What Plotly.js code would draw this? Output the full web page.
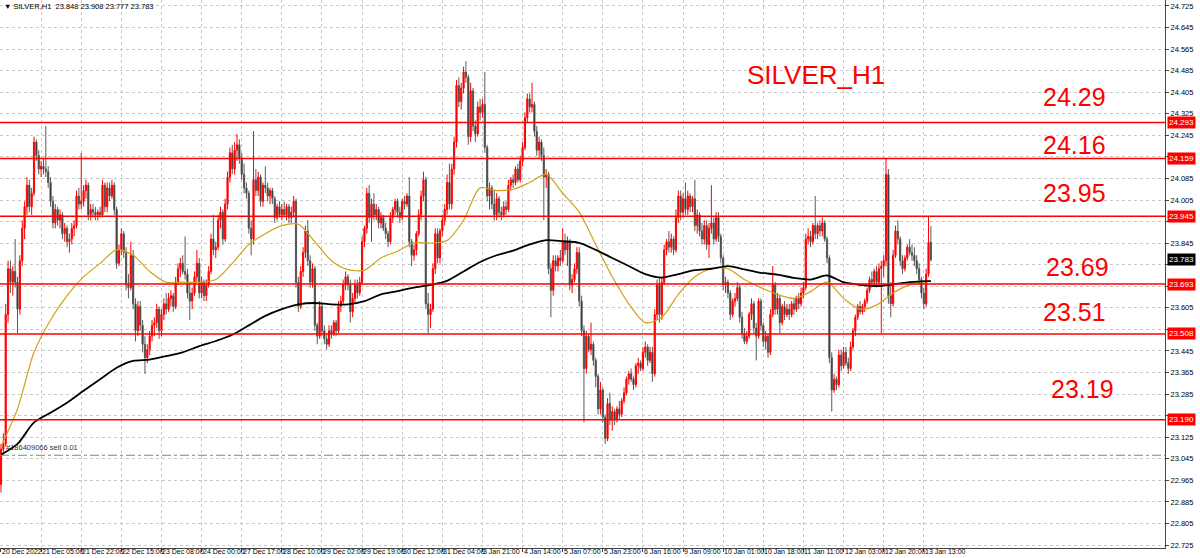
<!DOCTYPE html>
<html>
<head>
<meta charset="utf-8">
<script src="https://cdn.plot.ly/plotly-3.0.1.min.js"></script>
<style>html,body{margin:0;padding:0;background:#fff;}#chart{width:1200px;height:558px;}</style>
</head>
<body>
<div id="chart"></div>
<script>
// ---- H1 bars (20 Dec 2022 – 13 Jan 2023), split in four blocks ----
const o1=[22.95,23.08,23.10,23.58,23.75,23.70,23.74,23.70,23.60,23.78,
23.90,23.98,24.06,23.98,24.03,24.22,24.17,24.12,24.13,24.12,
24.11,24.07,24.00,23.92,23.97,23.93,23.95,23.88,23.90,23.85,
23.86,23.90,23.91,24.02,23.99,24.00,24.04,24.06,23.95,23.97,
23.96,23.95,23.96,23.95,24.06,23.98,24.05,24.02,24.06,23.97,
23.77,23.82,23.88,23.81,23.69,23.68,23.80,23.62,23.52,23.61,
23.54,23.47,23.42,23.45,23.50,23.54,23.55,23.60,23.52,23.58,
23.62,23.60,23.64,23.65,23.61,23.70,23.75,23.77,23.74,23.73,
23.66,23.63,23.66,23.72,23.77,23.66,23.70,23.65,23.69,23.74,
23.86,23.82,23.83,23.93,23.96,23.86,23.99,24.09,24.18,24.12];
const h1=[23.10,23.14,23.62,23.78,23.78,23.76,23.86,23.72,23.80,23.93,
24.00,24.09,24.08,24.05,24.24,24.23,24.19,24.15,24.16,24.28,
24.13,24.09,24.02,23.99,23.98,23.97,23.96,23.92,23.91,23.88,
23.92,23.93,24.04,24.05,24.18,24.06,24.08,24.07,23.99,23.99,
23.98,23.97,23.98,24.08,24.07,24.07,24.07,24.08,24.07,23.98,
23.84,23.90,23.89,23.83,23.73,23.85,23.82,23.64,23.63,23.63,
23.56,23.50,23.47,23.52,23.56,23.57,23.62,23.61,23.60,23.64,
23.66,23.66,23.67,23.66,23.72,23.77,23.79,23.80,23.87,23.75,
23.70,23.68,23.74,23.82,23.79,23.72,23.71,23.71,23.76,23.88,
23.95,23.85,23.95,23.98,23.97,24.01,24.11,24.20,24.21,24.22];
const l1=[22.92,23.06,23.09,23.55,23.66,23.65,23.68,23.51,23.58,23.76,
23.86,23.95,23.96,23.95,24.02,24.15,24.10,24.09,24.10,24.09,
24.05,23.98,23.90,23.90,23.91,23.90,23.86,23.85,23.83,23.81,
23.84,23.87,23.90,23.97,23.97,23.98,24.01,23.93,23.93,23.94,
23.93,23.93,23.94,23.94,23.96,23.96,24.00,24.01,23.95,23.75,
23.76,23.80,23.79,23.67,23.64,23.67,23.60,23.48,23.50,23.52,
23.44,23.36,23.40,23.43,23.48,23.50,23.53,23.49,23.50,23.56,
23.58,23.59,23.61,23.59,23.60,23.69,23.72,23.73,23.71,23.64,
23.56,23.60,23.65,23.70,23.64,23.64,23.63,23.63,23.68,23.73,
23.80,23.79,23.82,23.90,23.84,23.85,23.97,24.07,24.10,24.10];
const c1=[23.08,23.10,23.58,23.75,23.70,23.74,23.70,23.60,23.78,23.90,
23.98,24.06,23.98,24.03,24.22,24.17,24.12,24.13,24.12,24.11,
24.07,24.00,23.92,23.97,23.93,23.95,23.88,23.90,23.85,23.86,
23.90,23.91,24.02,23.99,24.00,24.04,24.06,23.95,23.97,23.96,
23.95,23.96,23.95,24.06,23.98,24.05,24.02,24.06,23.97,23.77,
23.82,23.88,23.81,23.69,23.68,23.80,23.62,23.52,23.61,23.54,
23.47,23.42,23.45,23.50,23.54,23.55,23.60,23.52,23.58,23.62,
23.60,23.64,23.65,23.61,23.70,23.75,23.77,23.74,23.73,23.66,
23.63,23.66,23.72,23.77,23.66,23.70,23.65,23.69,23.74,23.86,
23.82,23.83,23.93,23.96,23.86,23.99,24.09,24.18,24.12,24.19];

const o2=[24.19,24.21,24.16,24.10,24.05,24.03,23.90,23.86,24.08,24.04,
24.09,24.00,24.06,24.05,24.02,24.04,24.01,23.94,23.98,23.95,
23.97,23.95,23.98,23.94,23.96,24.00,23.70,23.61,23.74,23.81,
23.89,23.78,23.70,23.75,23.54,23.50,23.61,23.52,23.49,23.47,
23.52,23.51,23.55,23.52,23.61,23.63,23.69,23.72,23.69,23.59,
23.64,23.69,23.66,23.70,23.85,23.90,24.03,23.94,23.99,23.95,
23.97,23.92,23.94,23.90,23.88,23.85,23.94,23.97,24.00,23.96,
23.94,24.00,23.99,24.02,23.85,23.80,23.82,23.88,23.95,24.02,
24.08,23.62,23.58,23.60,23.75,23.88,23.79,23.89,23.93,23.97,
24.07,23.99,24.12,24.22,24.43,24.37,24.42,24.48,24.46,24.24];
const h2=[24.25,24.23,24.18,24.14,24.07,24.04,23.93,24.26,24.12,24.11,
24.10,24.07,24.13,24.07,24.05,24.05,24.02,23.99,24.00,23.99,
24.00,23.99,23.99,23.98,24.02,24.01,23.72,23.76,23.83,23.91,
23.93,23.80,23.77,23.76,23.55,23.63,23.62,23.54,23.51,23.54,
23.54,23.56,23.56,23.63,23.65,23.71,23.74,23.73,23.71,23.66,
23.71,23.71,23.72,23.87,23.91,24.05,24.06,24.01,24.03,23.99,
23.98,23.96,23.95,23.92,23.89,23.96,23.98,24.01,24.01,23.98,
24.01,24.02,24.03,24.09,23.86,23.84,23.89,23.97,24.04,24.11,
24.09,23.66,23.62,23.77,23.90,23.90,23.90,23.95,23.99,24.10,
24.14,24.14,24.24,24.45,24.46,24.44,24.50,24.52,24.47,24.44];
const l2=[24.15,24.14,24.08,24.03,24.01,23.88,23.80,23.84,24.02,24.02,
23.98,23.98,24.03,24.00,23.99,23.99,23.92,23.93,23.94,23.93,
23.94,23.93,23.92,23.92,23.94,23.68,23.59,23.60,23.72,23.79,
23.76,23.68,23.68,23.52,23.47,23.49,23.50,23.47,23.45,23.46,
23.49,23.50,23.50,23.51,23.59,23.62,23.67,23.67,23.55,23.57,
23.62,23.64,23.65,23.69,23.83,23.88,23.92,23.85,23.93,23.93,
23.90,23.90,23.89,23.86,23.83,23.84,23.92,23.95,23.94,23.92,
23.93,23.97,23.98,23.83,23.76,23.78,23.80,23.87,23.93,24.00,
23.60,23.51,23.53,23.59,23.73,23.77,23.77,23.87,23.91,23.95,
23.97,23.97,24.10,24.20,24.35,24.34,24.40,24.44,24.21,24.22];
const c2=[24.21,24.16,24.10,24.05,24.03,23.90,23.86,24.08,24.04,24.09,
24.00,24.06,24.05,24.02,24.04,24.01,23.94,23.98,23.95,23.97,
23.95,23.98,23.94,23.96,24.00,23.70,23.61,23.74,23.81,23.89,
23.78,23.70,23.75,23.54,23.50,23.61,23.52,23.49,23.47,23.52,
23.51,23.55,23.52,23.61,23.63,23.69,23.72,23.69,23.59,23.64,
23.69,23.66,23.70,23.85,23.90,24.03,23.94,23.99,23.95,23.97,
23.92,23.94,23.90,23.88,23.85,23.94,23.97,24.00,23.96,23.94,
24.00,23.99,24.02,23.85,23.80,23.82,23.88,23.95,24.02,24.08,
23.62,23.58,23.60,23.75,23.88,23.79,23.89,23.93,23.97,24.07,
23.99,24.12,24.22,24.43,24.37,24.42,24.48,24.46,24.24,24.41];

const o3=[24.41,24.28,24.25,24.35,24.33,24.36,24.20,24.02,24.05,23.99,
23.95,24.01,23.96,23.95,23.98,23.97,24.06,24.08,24.07,24.12,
24.08,24.15,24.20,24.31,24.38,24.35,24.36,24.26,24.19,24.22,
24.17,24.09,24.10,23.75,23.67,23.78,23.76,23.79,23.78,23.85,
23.82,23.85,23.69,23.71,23.75,23.81,23.63,23.52,23.38,23.50,
23.45,23.47,23.41,23.35,23.23,23.30,23.20,23.12,23.25,23.19,
23.22,23.19,23.23,23.21,23.26,23.29,23.34,23.36,23.34,23.32,
23.39,23.40,23.38,23.44,23.46,23.41,23.44,23.36,23.58,23.69,
23.58,23.70,23.82,23.85,23.83,23.86,23.82,23.94,24.02,23.96,
24.01,23.97,24.02,23.98,24.01,23.91,23.95,23.89,23.86];
const h3=[24.42,24.30,24.37,24.38,24.38,24.48,24.21,24.07,24.06,24.04,
24.03,24.02,23.98,24.00,24.00,24.08,24.09,24.10,24.13,24.14,
24.17,24.22,24.33,24.40,24.40,24.44,24.37,24.28,24.24,24.23,
24.20,24.12,24.11,23.77,23.80,23.80,23.80,23.82,23.90,23.88,
23.87,23.86,23.73,23.77,23.83,23.83,23.65,23.54,23.52,23.51,
23.55,23.48,23.42,23.36,23.33,23.31,23.21,23.27,23.29,23.24,
23.23,23.24,23.26,23.27,23.31,23.35,23.37,23.38,23.35,23.40,
23.42,23.41,23.46,23.48,23.47,23.46,23.46,23.60,23.71,23.72,
23.72,23.84,23.86,23.89,23.88,23.87,23.97,24.04,24.04,24.03,
24.07,24.04,24.03,24.02,24.08,23.97,23.96,23.92,23.93];
const l3=[24.26,24.22,24.24,24.30,24.31,24.18,24.00,23.97,23.97,23.93,
23.93,23.94,23.93,23.94,23.95,23.96,24.04,24.05,24.06,24.07,
24.07,24.13,24.19,24.29,24.33,24.33,24.24,24.17,24.16,24.15,
23.93,24.05,23.73,23.57,23.65,23.74,23.74,23.76,23.77,23.80,
23.76,23.67,23.66,23.70,23.73,23.61,23.50,23.18,23.36,23.44,
23.43,23.39,23.31,23.21,23.21,23.18,23.10,23.11,23.17,23.15,
23.17,23.18,23.19,23.20,23.25,23.28,23.32,23.33,23.30,23.31,
23.36,23.37,23.37,23.42,23.39,23.40,23.33,23.35,23.56,23.55,
23.56,23.69,23.80,23.81,23.81,23.80,23.81,23.92,23.93,23.94,
23.95,23.95,23.96,23.96,23.89,23.88,23.87,23.84,23.84];
const c3=[24.28,24.25,24.35,24.33,24.36,24.20,24.02,24.05,23.99,23.95,
24.01,23.96,23.95,23.98,23.97,24.06,24.08,24.07,24.12,24.08,
24.15,24.20,24.31,24.38,24.35,24.36,24.26,24.19,24.22,24.17,
24.09,24.10,23.75,23.67,23.78,23.76,23.79,23.78,23.85,23.82,
23.85,23.69,23.71,23.75,23.81,23.63,23.52,23.38,23.50,23.45,
23.47,23.41,23.35,23.23,23.30,23.20,23.12,23.25,23.19,23.22,
23.19,23.23,23.21,23.26,23.29,23.34,23.36,23.34,23.32,23.39,
23.40,23.38,23.44,23.46,23.41,23.44,23.36,23.58,23.69,23.58,
23.70,23.82,23.85,23.83,23.86,23.82,23.94,24.02,23.96,24.01,
23.97,24.02,23.98,24.01,23.91,23.95,23.89,23.86,23.91];

const o4=[23.91,23.84,23.90,23.92,23.86,23.94,23.87,23.79,23.69,23.70,
23.66,23.58,23.63,23.64,23.68,23.57,23.51,23.48,23.50,23.58,
23.62,23.53,23.50,23.63,23.54,23.48,23.50,23.44,23.58,23.69,
23.60,23.64,23.55,23.61,23.58,23.60,23.58,23.62,23.60,23.64,
23.62,23.66,23.68,23.86,23.87,23.85,23.91,23.88,23.91,23.89,
23.92,23.86,23.79,23.42,23.30,23.34,23.32,23.43,23.39,23.44,
23.40,23.38,23.46,23.52,23.57,23.61,23.59,23.61,23.63,23.67,
23.71,23.70,23.74,23.70,23.75,23.76,23.78,24.10,23.65,23.62,
23.80,23.89,23.86,23.78,23.75,23.79,23.83,23.81,23.80,23.78,
23.75,23.71,23.66,23.62,23.73,23.848];
const h4=[23.93,23.92,24.06,23.94,23.96,23.96,23.88,23.80,23.72,23.71,
23.67,23.64,23.66,23.70,23.69,23.59,23.53,23.52,23.59,23.64,
23.63,23.55,23.64,23.64,23.55,23.52,23.51,23.60,23.76,23.70,
23.66,23.65,23.62,23.63,23.62,23.62,23.63,23.64,23.65,23.66,
23.68,23.70,23.88,23.90,23.89,23.92,24.02,23.92,23.93,23.94,
23.93,23.87,23.80,23.44,23.36,23.35,23.45,23.45,23.46,23.46,
23.42,23.48,23.53,23.58,23.62,23.63,23.62,23.64,23.68,23.72,
23.74,23.75,23.76,23.77,23.78,23.80,24.16,24.12,23.70,23.82,
23.91,23.93,23.87,23.80,23.80,23.84,23.86,23.84,23.83,23.80,
23.77,23.72,23.68,23.75,23.945,23.908];
const l4=[23.82,23.79,23.88,23.84,23.85,23.85,23.77,23.67,23.66,23.64,
23.56,23.57,23.61,23.63,23.55,23.49,23.47,23.47,23.49,23.56,
23.51,23.41,23.49,23.52,23.46,23.45,23.42,23.43,23.57,23.58,
23.58,23.51,23.54,23.56,23.57,23.56,23.57,23.58,23.59,23.60,
23.61,23.64,23.67,23.84,23.83,23.84,23.86,23.86,23.87,23.87,
23.85,23.77,23.40,23.22,23.29,23.30,23.31,23.37,23.38,23.39,
23.36,23.37,23.45,23.50,23.56,23.58,23.58,23.59,23.62,23.66,
23.68,23.69,23.68,23.69,23.51,23.72,23.76,23.62,23.57,23.61,
23.79,23.84,23.76,23.73,23.74,23.78,23.80,23.78,23.76,23.73,
23.69,23.64,23.60,23.61,23.72,23.777];
const c4=[23.84,23.90,23.92,23.86,23.94,23.87,23.79,23.69,23.70,23.66,
23.58,23.63,23.64,23.68,23.57,23.51,23.48,23.50,23.58,23.62,
23.53,23.50,23.63,23.54,23.48,23.50,23.44,23.58,23.69,23.60,
23.64,23.55,23.61,23.58,23.60,23.58,23.62,23.60,23.64,23.62,
23.66,23.68,23.86,23.87,23.85,23.91,23.88,23.91,23.89,23.92,
23.86,23.79,23.42,23.30,23.34,23.32,23.43,23.39,23.44,23.40,
23.38,23.46,23.52,23.57,23.61,23.59,23.61,23.63,23.67,23.71,
23.70,23.74,23.70,23.75,23.76,23.78,24.10,23.65,23.62,23.80,
23.89,23.86,23.78,23.75,23.79,23.83,23.81,23.80,23.78,23.75,
23.71,23.66,23.62,23.73,23.848,23.783];

// ---- moving averages, read at every 7th bar ----
const maBar=[0,7,14,21,28,35,42,49,56,63,70,77,84,91,98,105,112,119,126,133,140,147,154,161,168,175,182,189,196,203,210,217,224,231,238,245,252,259,266,273,280,287,294,301,308,315,322,329,336,343,350,357,364,371,378,385,392,394];
const maFast=[23.09,23.23,23.44,23.56,23.65,23.72,23.77,23.82,23.80,23.74,
23.70,23.70,23.70,23.71,23.77,23.84,23.88,23.91,23.915,23.85,
23.78,23.747,23.745,23.79,23.815,23.846,23.845,23.855,23.93,24.05,
24.04,24.045,24.07,24.10,24.03,23.96,23.84,23.72,23.62,23.55,
23.57,23.655,23.72,23.75,23.75,23.71,23.68,23.655,23.64,23.665,
23.70,23.64,23.60,23.615,23.66,23.69,23.703,23.704];
const maSlow=[23.06,23.10,23.18,23.216,23.253,23.297,23.34,23.383,23.408,23.413,
23.426,23.44,23.463,23.482,23.505,23.54,23.575,23.60,23.618,23.623,
23.618,23.618,23.63,23.655,23.667,23.68,23.69,23.705,23.74,23.775,
23.80,23.817,23.84,23.856,23.852,23.846,23.82,23.79,23.76,23.73,
23.717,23.73,23.745,23.75,23.76,23.748,23.735,23.728,23.716,23.71,
23.725,23.70,23.69,23.686,23.692,23.70,23.704,23.704];

// ---- levels and labels ----
const levelValues=[24.293,24.159,23.945,23.693,23.508,23.190];
const levelNames=["24.29","24.16","23.95","23.69","23.51","23.19"];
const orderPrice=23.058;
const orderText="#186409066 sell 0.01";
const lastPrice=23.783;
const headerText="\u25BC SILVER,H1  23.848 23.908 23.777 23.783";
const chartTitle="SILVER_H1";
const xTickLabels=["20 Dec 2022","21 Dec 05:00","21 Dec 22:00","22 Dec 15:00","23 Dec 08:00","24 Dec 00:00","27 Dec 17:00","28 Dec 10:00","29 Dec 02:00","29 Dec 19:00","30 Dec 12:00","31 Dec 04:00","3 Jan 21:00","4 Jan 14:00","5 Jan 07:00","5 Jan 23:00","6 Jan 16:00","9 Jan 09:00","10 Jan 01:00","10 Jan 18:00","11 Jan 11:00","12 Jan 03:00","12 Jan 20:00","13 Jan 13:00"];
const barsPerLabel=17;
const yTickStart=22.725, yTickStep=0.08, yTickCount=26;

// ---- build ----
const open=o1.concat(o2,o3,o4), high=h1.concat(h2,h3,h4), low=l1.concat(l2,l3,l4), close=c1.concat(c2,c3,c4);
const xIdx=open.map((_,i)=>i);
const tickvals=xTickLabels.map((_,k)=>k*barsPerLabel);
const boxPrices=levelValues.concat([lastPrice]);
const yTickVals=[], yTickText=[];
for(let k=0;k<yTickCount;k++){
  const v=+(yTickStart+k*yTickStep).toFixed(3);
  yTickVals.push(v);
  const hidden=boxPrices.some(b=>Math.abs(b-v)<0.03);
  yTickText.push(hidden?'':v.toFixed(3));
}

const FONT="Liberation Sans, Arial, sans-serif";
const NARROW="Liberation Sans Narrow, Arial Narrow, sans-serif";
const traces=[
 {type:'candlestick',x:xIdx,open:open,high:high,low:low,close:close,
  increasing:{line:{color:'#ff0000',width:1},fillcolor:'#ff0000'},
  decreasing:{line:{color:'#5a5a5a',width:1},fillcolor:'#000000'},
  whiskerwidth:0,hoverinfo:'skip',showlegend:false},
 {type:'scatter',mode:'lines',x:maBar,y:maFast,line:{color:'#d4a017',width:1.2,shape:'spline',smoothing:0.8},hoverinfo:'skip',showlegend:false},
 {type:'scatter',mode:'lines',x:maBar,y:maSlow,line:{color:'#000000',width:1.8,shape:'spline',smoothing:0.8},hoverinfo:'skip',showlegend:false}
];

const shapes=levelValues.map(v=>({type:'line',xref:'paper',x0:0,x1:1,yref:'y',y0:v,y1:v,line:{color:'#ff0000',width:1.5},layer:'above'}));
shapes.push({type:'line',xref:'paper',x0:0,x1:1,yref:'y',y0:orderPrice,y1:orderPrice,line:{color:'#5f9f5f',width:1,dash:'dashdot'}});

const labelPos=[[0.9219,24.388],[0.9219,24.210],[0.9219,24.032],[0.9253,23.758],[0.9219,23.588],[0.9296,23.303]];
const annotations=[];
levelNames.forEach((t,i)=>annotations.push({xref:'paper',yref:'y',x:labelPos[i][0],y:labelPos[i][1],text:t,showarrow:false,xanchor:'center',yanchor:'middle',font:{family:FONT,size:25,color:'#ff0000'}}));
annotations.push({xref:'paper',yref:'y',x:0.7004,y:24.469,text:chartTitle,showarrow:false,xanchor:'center',yanchor:'middle',font:{family:FONT,size:26,color:'#ff0000'}});
levelValues.forEach(v=>annotations.push({xref:'paper',yref:'y',x:1,xshift:2,y:v,text:v.toFixed(3),showarrow:false,xanchor:'left',yanchor:'middle',bgcolor:'#ff0000',borderpad:1,font:{family:FONT,size:8,color:'#ffffff'}}));
annotations.push({xref:'paper',yref:'y',x:1,xshift:2,y:lastPrice,text:lastPrice.toFixed(3),showarrow:false,xanchor:'left',yanchor:'middle',bgcolor:'#000000',borderpad:1,font:{family:FONT,size:8,color:'#ffffff'}});
annotations.push({xref:'paper',yref:'paper',x:0,xshift:2,y:1,text:headerText,showarrow:false,xanchor:'left',yanchor:'top',font:{family:FONT,size:7.5,color:'#000000'}});
annotations.push({xref:'paper',yref:'y',x:0,xshift:4,y:orderPrice,yshift:1,text:orderText,showarrow:false,xanchor:'left',yanchor:'bottom',font:{family:FONT,size:7.5,color:'#333333'}});
// x-axis date labels, left-aligned at their tick like the terminal does
xTickLabels.forEach((t,k)=>annotations.push({xref:'x',yref:'paper',x:tickvals[k],xshift:0,y:0,yshift:1,text:t,showarrow:false,xanchor:'left',yanchor:'top',borderpad:0,font:{family:NARROW,size:7,color:'#000000'}}));

const layout={
 width:1200,height:558,margin:{l:0,r:35,t:0,b:10},
 paper_bgcolor:'#ffffff',plot_bgcolor:'#ffffff',
 font:{family:FONT,size:8,color:'#000000'},
 showlegend:false,hovermode:false,
 xaxis:{type:'linear',range:[-0.42,493.2],rangeslider:{visible:false},tickmode:'array',tickvals:tickvals,showticklabels:false,
  ticks:'outside',ticklen:3,tickcolor:'#444',
  showgrid:true,gridcolor:'#c8c8c8',griddash:'dot',gridwidth:1,showline:true,linecolor:'#444',linewidth:1,zeroline:false,fixedrange:true},
 yaxis:{side:'right',range:[22.714,24.747],tickmode:'array',tickvals:yTickVals,ticktext:yTickText,ticks:'outside',ticklen:3,tickcolor:'#444',
  tickfont:{family:FONT,size:7.5,color:'#000'},showgrid:true,gridcolor:'#c8c8c8',griddash:'dot',gridwidth:1,
  showline:true,linecolor:'#444',linewidth:1,zeroline:false,fixedrange:true},
 shapes:shapes,annotations:annotations
};
Plotly.newPlot('chart',traces,layout,{staticPlot:true,displayModeBar:false});
</script>
</body>
</html>
